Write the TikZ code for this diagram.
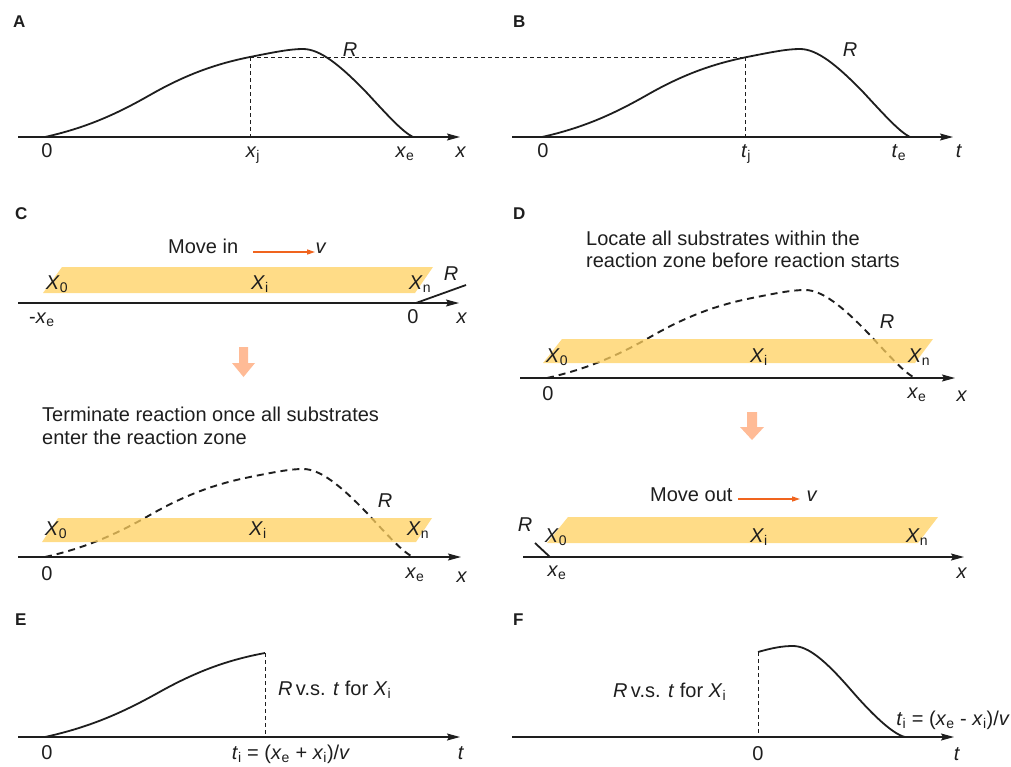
\documentclass[tikz,border=0pt]{standalone}
\usepackage{fontspec}
\setmainfont{Liberation Sans}
\usetikzlibrary{arrows.meta}
\definecolor{bandc}{RGB}{255,208,95}
\definecolor{salmonc}{RGB}{255,187,150}
\definecolor{velc}{RGB}{240,100,30}
\definecolor{inkc}{RGB}{30,30,30}
\newcommand{\iv}[2]{\textit{#1}\textsubscript{#2}}
\begin{document}
\begin{tikzpicture}[x=1pt,y=-1pt,
  font=\fontsize{20}{23}\selectfont,
  axis/.style={draw=inkc, line width=1.2pt, -{Stealth[length=13pt,width=7pt,inset=2pt]}},
  curve/.style={draw=inkc, line width=1.8pt},
  dcurve/.style={draw=inkc, line width=1.9pt, dash pattern=on 7pt off 5pt},
  guide/.style={draw=inkc, line width=0.9pt, dash pattern=on 4pt off 3pt},
  band/.style={fill=bandc, fill opacity=0.75},
  lab/.style={inner sep=0pt, anchor=base, text=inkc},
  labw/.style={inner sep=0pt, anchor=base west, text=inkc},
  panel/.style={inner sep=0pt, anchor=base west, text=inkc, font=\fontsize{17}{19}\selectfont\bfseries},
  bigarrow/.style={fill=salmonc},
  vel/.style={draw=velc, line width=1.4pt, -{Triangle[length=8pt,width=5pt]}}
]
\useasboundingbox (0,0) rectangle (1011,766);

% ---------------- Panel A ----------------
\node[panel] (pA) at (13,27) {A};
\coordinate (Aax0) at (18,137);
\coordinate (Aax1) at (460,137);
\coordinate (Aj) at (250,57);
\coordinate (Ajb) at (250,137);
\draw[curve] (45,137) .. controls (85,128) and (115,115) .. (150,95)
  .. controls (185,75) and (215,64) .. (250,57)
  .. controls (275,52) and (290,49) .. (303,49)
  .. controls (320,49) and (340,65) .. (367,93)
  .. controls (390,118) and (403,132) .. (413,137);
\draw[guide] (Aj) -- (Ajb);
\draw[axis] (Aax0) -- (Aax1);
\node[lab] (A0) at (47,157) {0};
\node[lab] (Axj) at (253,157) {\iv{x}{j}};
\node[lab] (Axe) at (405,157) {\iv{x}{e}};
\node[lab] (Ax) at (461,157) {\textit{x}};
\node[lab] (AR) at (350,56) {\textit{R}};

% ---------------- Panel B ----------------
\node[panel] (pB) at (513,27) {B};
\coordinate (Bax0) at (512,137);
\coordinate (Bax1) at (953,137);
\coordinate (Bj) at (745,57);
\coordinate (Bjb) at (745,137);
\begin{scope}[shift={(497,0)}]
\draw[curve] (45,137) .. controls (85,128) and (115,115) .. (150,95)
  .. controls (185,75) and (215,64) .. (250,57)
  .. controls (275,52) and (290,49) .. (303,49)
  .. controls (320,49) and (340,65) .. (367,93)
  .. controls (390,118) and (403,132) .. (413,137);
\end{scope}
\draw[guide] (Aj) -- (Bj);
\draw[guide] (Bj) -- (Bjb);
\draw[axis] (Bax0) -- (Bax1);
\node[lab] (B0) at (543,157) {0};
\node[lab] (Btj) at (746,157) {\iv{t}{j}};
\node[lab] (Bte) at (899,157) {\iv{t}{e}};
\node[lab] (Bt) at (959,157) {\textit{t}};
\node[lab] (BR) at (850,56) {\textit{R}};

% ---------------- Panel C (top) ----------------
\node[panel] (pC) at (15,219) {C};
\node[labw] (Cmove) at (168,253) {Move in};
\coordinate (Cv0) at (253,252);
\coordinate (Cv1) at (315,252);
\draw[vel] (Cv0) -- (Cv1);
\node[lab] (Cv) at (321,253) {\textit{v}};
\fill[band] (62,267) -- (433,267) -- (415,293) -- (43,293) -- cycle;
\coordinate (Cax0) at (18,303);
\coordinate (Cax1) at (459,303);
\coordinate (CR0) at (416,303);
\coordinate (CR1) at (466,285);
\draw[axis] (Cax0) -- (Cax1);
\draw[curve] (CR0) -- (CR1);
\node[lab] (CX0) at (57,289) {\iv{X}{0}};
\node[lab] (CXi) at (260,289) {\iv{X}{i}};
\node[lab] (CXn) at (420,289) {\iv{X}{n}};
\node[lab] (CR) at (451,280) {\textit{R}};
\node[lab] (Cxe) at (42,323) {-\iv{x}{e}};
\node[lab] (C0) at (413,323) {0};
\node[lab] (Cx) at (462,323) {\textit{x}};

% big arrow C
\fill[bigarrow] (239,347) -- (248,347) -- (248,363) -- (255,363) -- (243.5,377) -- (232,363) -- (239,363) -- cycle;

% ---------------- Panel C (bottom) ----------------
\node[labw] (Ct1) at (42,421) {Terminate reaction once all substrates};
\node[labw] (Ct2) at (42,444) {enter the reaction zone};
\begin{scope}[shift={(0,420)}]
\draw[dcurve] (45,137) .. controls (85,128) and (115,115) .. (150,95)
  .. controls (185,75) and (215,64) .. (250,57)
  .. controls (275,52) and (290,49) .. (303,49)
  .. controls (320,49) and (340,65) .. (367,93)
  .. controls (390,118) and (403,132) .. (413,137);
\end{scope}
\fill[band] (58,518) -- (432,518) -- (416,542) -- (42,542) -- cycle;
\coordinate (Cbax0) at (18,557);
\coordinate (Cbax1) at (461,557);
\draw[axis] (Cbax0) -- (Cbax1);
\node[lab] (CbX0) at (56,535) {\iv{X}{0}};
\node[lab] (CbXi) at (258,535) {\iv{X}{i}};
\node[lab] (CbXn) at (418,535) {\iv{X}{n}};
\node[lab] (CbR) at (385,507) {\textit{R}};
\node[lab] (Cb0) at (47,580) {0};
\node[lab] (Cbxe) at (415,578) {\iv{x}{e}};
\node[lab] (Cbx) at (462,582) {\textit{x}};

% ---------------- Panel D (top) ----------------
\node[panel] (pD) at (513,219) {D};
\node[labw] (Dt1) at (586,245) {Locate all substrates within the};
\node[labw] (Dt2) at (586,267) {reaction zone before reaction starts};
\begin{scope}[shift={(502,241)}]
\draw[dcurve] (45,137) .. controls (85,128) and (115,115) .. (150,95)
  .. controls (185,75) and (215,64) .. (250,57)
  .. controls (275,52) and (290,49) .. (303,49)
  .. controls (320,49) and (340,65) .. (367,93)
  .. controls (390,118) and (403,132) .. (413,137);
\end{scope}
\fill[band] (562,339) -- (933,339) -- (915,363) -- (543,363) -- cycle;
\coordinate (Dax0) at (520,378);
\coordinate (Dax1) at (955,378);
\draw[axis] (Dax0) -- (Dax1);
\node[lab] (DX0) at (557,362) {\iv{X}{0}};
\node[lab] (DXi) at (759,362) {\iv{X}{i}};
\node[lab] (DXn) at (919,362) {\iv{X}{n}};
\node[lab] (DR) at (887,328) {\textit{R}};
\node[lab] (D0) at (548,400) {0};
\node[lab] (Dxe) at (917,398) {\iv{x}{e}};
\node[lab] (Dx) at (962,401) {\textit{x}};

% big arrow D
\fill[bigarrow] (747,412) -- (757,412) -- (757,427) -- (764,427) -- (752,440) -- (740,427) -- (747,427) -- cycle;

% ---------------- Panel D (bottom) ----------------
\node[labw] (Dmove) at (650,501) {Move out};
\coordinate (Dv0) at (738,499);
\coordinate (Dv1) at (800,499);
\draw[vel] (Dv0) -- (Dv1);
\node[lab] (Dv) at (812,501) {\textit{v}};
\fill[band] (568,517) -- (938,517) -- (918,543) -- (547,543) -- cycle;
\coordinate (Dbax0) at (523,557);
\coordinate (Dbax1) at (964,557);
\coordinate (DR0) at (535,543);
\coordinate (DR1) at (550,557);
\draw[axis] (Dbax0) -- (Dbax1);
\draw[curve] (DR0) -- (DR1);
\node[lab] (DbR) at (525,531) {\textit{R}};
\node[lab] (DbX0) at (556,542) {\iv{X}{0}};
\node[lab] (DbXi) at (759,542) {\iv{X}{i}};
\node[lab] (DbXn) at (917,542) {\iv{X}{n}};
\node[lab] (Dbxe) at (557,576) {\iv{x}{e}};
\node[lab] (Dbx) at (962,578) {\textit{x}};

% ---------------- Panel E ----------------
\node[panel] (pE) at (15,625) {E};
\coordinate (Eax0) at (18,737);
\coordinate (Eax1) at (460,737);
\coordinate (Ei) at (265,653);
\coordinate (Eib) at (265,737);
\draw[curve] (45,737) .. controls (88,727.5) and (120,714) .. (157.7,693)
  .. controls (195,672) and (227,660) .. (Ei);
\draw[guide] (Ei) -- (Eib);
\draw[axis] (Eax0) -- (Eax1);
\node[labw] (Elab) at (278,695) {\textit{R}\,v.s. \textit{t} for \iv{X}{i}};
\node[lab] (E0) at (47,759) {0};
\node[lab] (Eti) at (291,759) {\iv{t}{i} = (\iv{x}{e} + \iv{x}{i})/\textit{v}};
\node[lab] (Et) at (461,759) {\textit{t}};

% ---------------- Panel F ----------------
\node[panel] (pF) at (513,625) {F};
\coordinate (Fax0) at (512,737);
\coordinate (Fax1) at (954,737);
\coordinate (Fi) at (758,652);
\coordinate (Fib) at (758,737);
\draw[curve] (Fi) .. controls (772,648) and (782,646) .. (793,646)
  .. controls (808,646) and (825,660) .. (851,690)
  .. controls (870,712) and (892,734) .. (905,737);
\draw[guide] (Fi) -- (Fib);
\draw[axis] (Fax0) -- (Fax1);
\node[labw] (Flab) at (613,697) {\textit{R}\,v.s. \textit{t} for \iv{X}{i}};
\node[inner sep=0pt, anchor=base east, text=inkc] (Fti) at (1010,725) {\iv{t}{i} = (\iv{x}{e} - \iv{x}{i})/\textit{v}};
\node[lab] (F0) at (758,760) {0};
\node[lab] (Ft) at (957,760) {\textit{t}};
\end{tikzpicture}
\end{document}
